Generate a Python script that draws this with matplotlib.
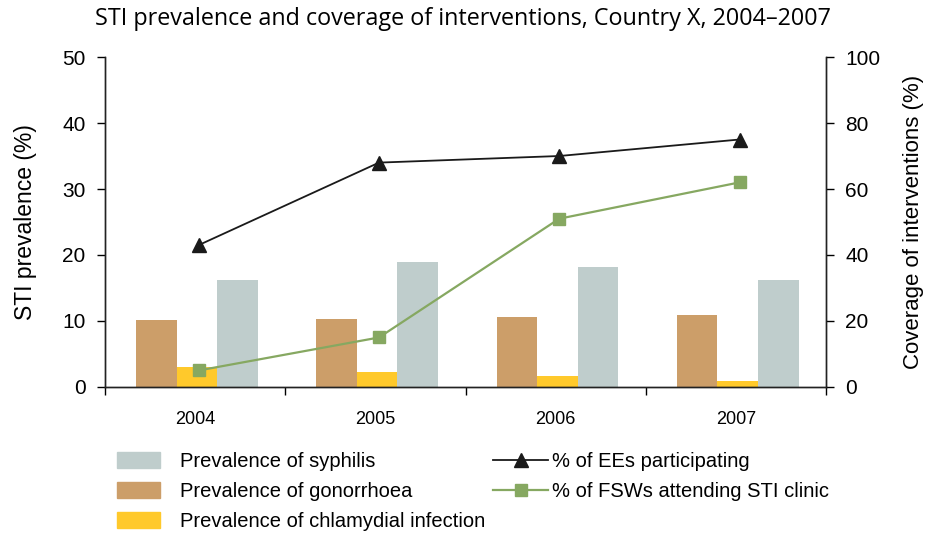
import matplotlib
matplotlib.use("Agg")
import matplotlib.pyplot as plt
import numpy as np
from matplotlib.patches import Patch
from matplotlib.lines import Line2D

years = ["2004", "2005", "2006", "2007"]
gonorrhoea = [10.1, 10.3, 10.6, 10.9]
chlamydia = [3.0, 2.3, 1.7, 0.9]
syphilis = [16.2, 18.9, 18.2, 16.2]
ees_participating = [43, 68, 70, 75]
fsws_attending = [5, 15, 51, 62]

c_syph = "#bfcdcc"
c_gon = "#cc9e69"
c_chl = "#ffc92b"
c_green = "#86a861"
c_black = "#1a1a1a"

plt.rcParams["font.family"] = ["Liberation Sans", "DejaVu Sans"]

fig = plt.figure(figsize=(9.25, 5.33), dpi=100)
ax = fig.add_axes([0.1135, 0.274, 0.7795, 0.619])
ax2 = ax.twinx()

x = np.arange(len(years))
w = 0.225
ax.bar(x - w + 0.01, gonorrhoea, w, color=c_gon, zorder=2)
ax.bar(x + 0.01, chlamydia, w, color=c_chl, zorder=2)
ax.bar(x + w + 0.01, syphilis, w, color=c_syph, zorder=2)

ax2.plot(x + 0.02, ees_participating, color=c_black, lw=1.3, marker="^",
         markersize=10, zorder=3)
ax2.plot(x + 0.02, fsws_attending, color=c_green, lw=1.6, marker="s",
         markersize=9, zorder=3)

ax.set_xlim(-0.5, 3.5)
ax.set_ylim(0, 50)
ax2.set_ylim(0, 100)
ax.set_yticks(range(0, 51, 10))
ax2.set_yticks(range(0, 101, 20))

ax.set_xticks(x)
ax.set_xticklabels(years, fontsize=13)
ax.set_xticks(np.arange(-0.5, 3.6, 1), minor=True)
ax.tick_params(axis="x", which="major", length=0, pad=17)
ax.tick_params(axis="x", which="minor", length=6, width=1, direction="out")
ax.tick_params(axis="y", labelsize=15, length=6, width=1, direction="out", pad=8)
ax2.tick_params(axis="y", labelsize=15, length=6, width=1, direction="out", pad=8)

for a in (ax, ax2):
    a.spines["top"].set_visible(False)
    for s in ("left", "right", "bottom"):
        a.spines[s].set_color("#222222")
        a.spines[s].set_linewidth(1)

ax.set_ylabel("STI prevalence (%)", fontsize=16.5, labelpad=18)
ax2.set_ylabel("Coverage of interventions (%)", fontsize=16, labelpad=16)

fig.text(0.5, 0.965, "STI prevalence and coverage of interventions, Country X, 2004\u20132007",
         ha="center", va="center", fontsize=16.8, family=["Open Sans", "DejaVu Sans"])

left_handles = [Patch(color=c_syph), Patch(color=c_gon), Patch(color=c_chl)]
left_labels = ["Prevalence of syphilis", "Prevalence of gonorrhoea",
               "Prevalence of chlamydial infection"]
fig.legend(left_handles, left_labels, loc="upper left",
           bbox_to_anchor=(0.1265, 0.152), frameon=False, fontsize=14.5,
           handlelength=2.15, handleheight=0.8, handletextpad=1.0,
           labelspacing=0.55, borderaxespad=0, borderpad=0)

right_handles = [Line2D([], [], color=c_black, lw=1.3, marker="^", markersize=10),
                 Line2D([], [], color=c_green, lw=1.6, marker="s", markersize=9)]
right_labels = ["% of EEs participating", "% of FSWs attending STI clinic"]
fig.legend(right_handles, right_labels, loc="upper left",
           bbox_to_anchor=(0.533, 0.152), frameon=False, fontsize=14.5,
           handlelength=2.75, handletextpad=0.2, labelspacing=0.55,
           borderaxespad=0, borderpad=0)

fig.savefig("out.png", dpi=100)
